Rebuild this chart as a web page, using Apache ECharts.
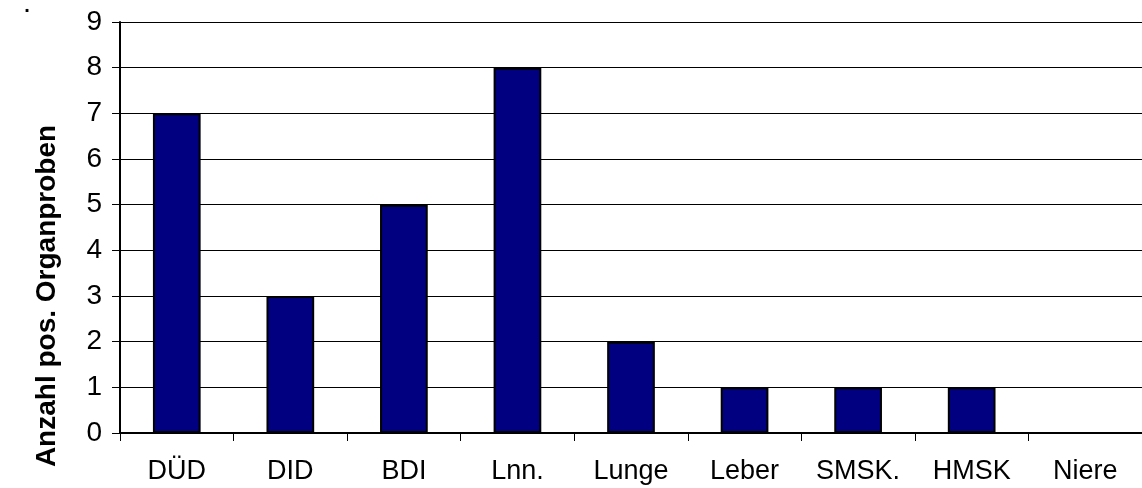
<!DOCTYPE html>
<html>
<head>
  <meta charset="utf-8">
  <title>Organproben</title>
  <script src="https://cdn.jsdelivr.net/npm/echarts@6/dist/echarts.min.js"></script>
  <style>
    html, body { margin: 0; padding: 0; background: #fff; }
  </style>
</head>
<body>
  <div id="main" style="width:1142px;height:488px;"></div>
  <script type="text/javascript">
    // Daten
    var categories = ['DÜD', 'DID', 'BDI', 'Lnn.', 'Lunge', 'Leber', 'SMSK.', 'HMSK', 'Niere'];
    var counts = [7, 3, 5, 8, 2, 1, 1, 1, 0];
    var yTitle = 'Anzahl pos. Organproben';

    var myChart = echarts.init(document.getElementById('main'));

    var option = {
      backgroundColor: '#fff',
      animation: false,
      textStyle: { fontFamily: 'Liberation Sans, Arial, sans-serif' },
      grid: { left: 120, right: -5, top: 22, bottom: 55 },
      xAxis: {
        type: 'category',
        data: categories,
        axisLine: { lineStyle: { color: '#000', width: 2 } },
        axisTick: { show: true, length: 8, lineStyle: { color: '#000' } },
        axisLabel: { color: '#000', fontSize: 27, margin: 25 }
      },
      yAxis: {
        type: 'value',
        min: 0,
        max: 9,
        interval: 1,
        axisLine: { show: true, lineStyle: { color: '#000', width: 2 } },
        axisTick: { show: true, length: 8, lineStyle: { color: '#000' } },
        axisLabel: { color: '#000', fontSize: 28, margin: 18 },
        splitLine: { lineStyle: { color: '#000', width: 1 } }
      },
      graphic: [
        {
          type: 'text',
          x: 47,
          y: 296,
          rotation: Math.PI / 2,
          style: {
            text: yTitle,
            font: 'bold 28px Liberation Sans, Arial, sans-serif',
            fill: '#000',
            align: 'center',
            verticalAlign: 'middle'
          }
        },
        {
          type: 'text',
          x: 27,
          y: 16,
          style: {
            text: '.',
            font: 'bold 20px Liberation Sans, Arial, sans-serif',
            fill: '#000',
            align: 'center',
            verticalAlign: 'bottom'
          }
        }
      ],
      series: [{
        type: 'bar',
        data: counts,
        barWidth: '42%',
        itemStyle: { color: '#000080', borderColor: '#000', borderWidth: 2 }
      }]
    };

    myChart.setOption(option);
  </script>
</body>
</html>
